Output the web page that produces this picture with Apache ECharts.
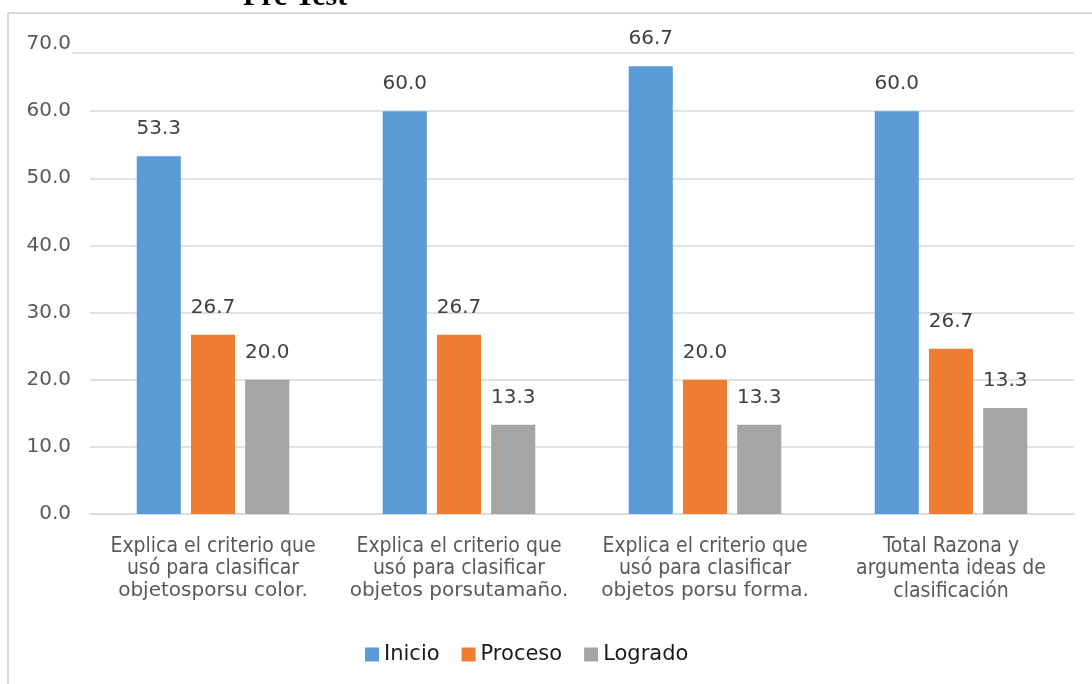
<!DOCTYPE html>
<html>
<head>
<meta charset="utf-8">
<title>Pre Test</title>
<script src="https://cdn.jsdelivr.net/npm/echarts@6/dist/echarts.min.js"></script>
<style>
  html, body { margin: 0; padding: 0; background: #fff; }
  #chart { width: 1092px; height: 684px; }
</style>
</head>
<body>
<div id="chart"></div>
<script>
// categorias (eje x)
const categorias = [
  'Explica el criterio que\nusó para clasificar\nobjetosporsu color.',
  'Explica el criterio que\nusó para clasificar\nobjetos porsutamaño.',
  'Explica el criterio que\nusó para clasificar\nobjetos porsu forma.',
  'Total Razona y\nargumenta ideas de\nclasificación'
]
const series_nombres = ['Inicio', 'Proceso', 'Logrado']
// alturas de barras
const inicio = [53.3, 60.0, 66.7, 60.0]
const proceso = [26.7, 26.7, 20.0, 24.6]
const logrado = [20.0, 13.3, 13.3, 15.8]
// etiquetas mostradas sobre las barras
const inicioEtiquetas = ['53.3', '60.0', '66.7', '60.0']
const procesoEtiquetas = ['26.7', '26.7', '20.0', '26.7']
const logradoEtiquetas = ['20.0', '13.3', '13.3', '13.3']
const yTicks = [0, 10, 20, 30, 40, 50, 60, 70]

const colores = ['#5B9BD5', '#ED7D31', '#A5A5A5']
const numFont = 'DejaVu Sans'

const chart = echarts.init(document.getElementById('chart'))

function serie(nombre, datos, etiquetas) {
  return {
    name: nombre,
    type: 'bar',
    data: datos,
    barGap: '23%',
    barCategoryGap: '38%',
    label: {
      show: true,
      position: 'top',
      distance: 17,
      fontFamily: numFont,
      fontSize: 20,
      color: '#404040',
      formatter: p => etiquetas[p.dataIndex]
    }
  }
}

chart.setOption({
  animation: false,
  color: colores,
  title: {
    text: 'Pre Test',
    left: 238,
    top: -23,
    textStyle: {
      fontFamily: 'Liberation Serif',
      fontWeight: 'bold',
      fontSize: 30,
      color: '#000'
    }
  },
  // marco del gráfico
  graphic: [
    { type: 'line', shape: { x1: 8, y1: 13, x2: 1092, y2: 13 }, style: { stroke: '#d9d9d9', lineWidth: 2 } },
    { type: 'line', shape: { x1: 8, y1: 13, x2: 8, y2: 684 }, style: { stroke: '#d9d9d9', lineWidth: 2 } },
    { type: 'line', shape: { x1: 72, y1: 53, x2: 1074, y2: 53 }, style: { stroke: '#d9d9d9', lineWidth: 1.5 } }
  ],
  legend: {
    data: series_nombres,
    left: 360,
    top: 639,
    icon: 'rect',
    itemWidth: 14,
    itemHeight: 14,
    itemGap: 22,
    textStyle: { fontFamily: numFont, fontSize: 21, color: '#1a1a1a' }
  },
  grid: { left: 90, right: 18, top: 44, bottom: 170 },
  xAxis: {
    type: 'category',
    data: categorias,
    axisLine: { lineStyle: { color: '#d9d9d9', width: 1.5 } },
    axisTick: { show: false },
    axisLabel: {
      interval: 0,
      margin: 21,
      color: '#595959',
      formatter: (v, i) => {
        const lineas = v.split('\n')
        return lineas.map((l, k) => (k === 2 && i < 3 ? '{w|' + l + '}' : '{t|' + l + '}')).join('\n')
      },
      rich: {
        t: { fontFamily: 'DejaVu Sans Condensed', fontSize: 21, lineHeight: 22.5, color: '#595959' },
        w: { fontFamily: numFont, fontSize: 20, lineHeight: 22.5, color: '#595959' }
      }
    }
  },
  yAxis: {
    type: 'value',
    min: yTicks[0],
    max: yTicks[yTicks.length - 1],
    interval: 10,
    axisLine: { show: false },
    axisTick: { show: false },
    splitLine: {
      lineStyle: {
        color: ['#d9d9d9', '#d9d9d9', '#d9d9d9', '#d9d9d9', '#d9d9d9', '#d9d9d9', '#d9d9d9', 'transparent'],
        width: 1.5
      }
    },
    axisLabel: {
      margin: 19,
      fontFamily: numFont,
      fontSize: 20,
      color: '#595959',
      formatter: v => v.toFixed(1)
    }
  },
  series: [
    serie(series_nombres[0], inicio, inicioEtiquetas),
    serie(series_nombres[1], proceso, procesoEtiquetas),
    serie(series_nombres[2], logrado, logradoEtiquetas)
  ]
})
</script>
</body>
</html>
